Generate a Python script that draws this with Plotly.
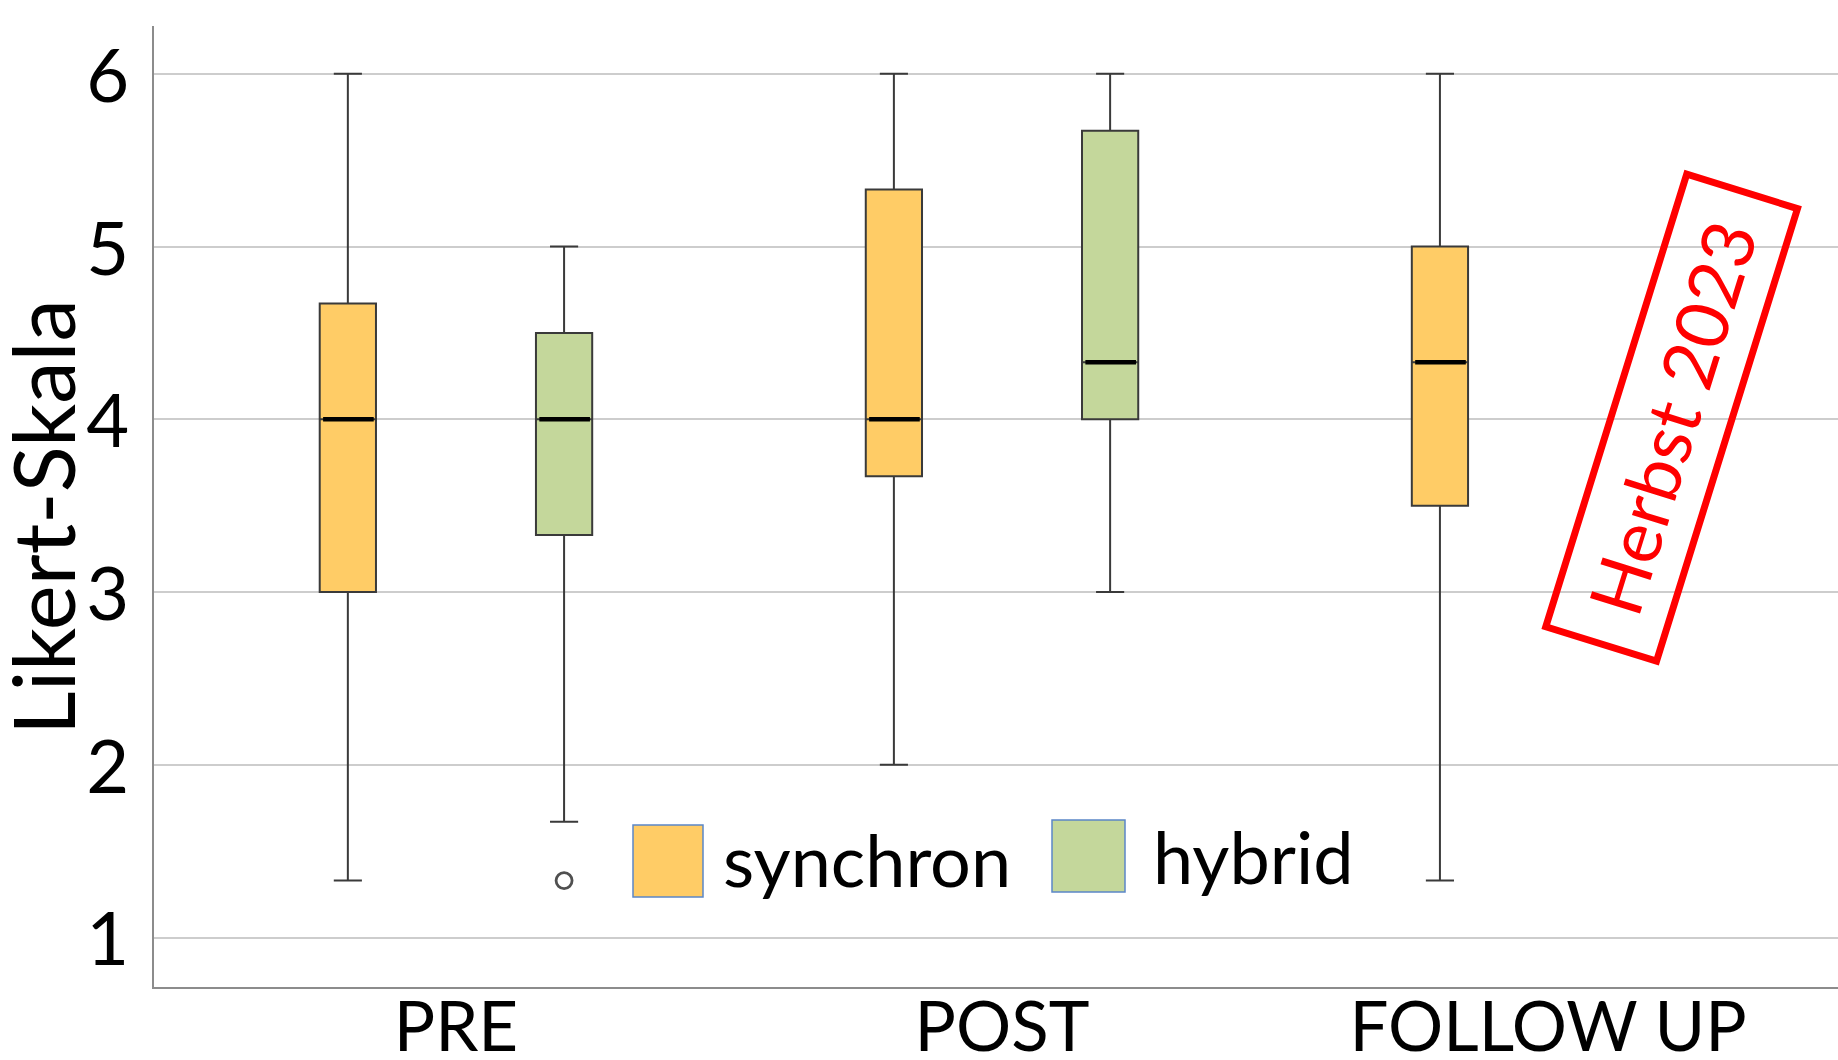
import plotly.graph_objects as go

# ---------------- data ----------------
categories = ["PRE", "POST", "FOLLOW UP"]

syn_name = "synchron"
syn_lower = [1.33, 2.0, 1.33]
syn_q1 = [3.0, 3.67, 3.5]
syn_median = [4.0, 4.0, 4.33]
syn_q3 = [4.67, 5.33, 5.0]
syn_upper = [6.0, 6.0, 6.0]

hyb_name = "hybrid"
hyb_categories = ["PRE", "POST"]
hyb_lower = [1.67, 3.0]
hyb_q1 = [3.33, 4.0]
hyb_median = [4.0, 4.33]
hyb_q3 = [4.5, 5.67]
hyb_upper = [5.0, 6.0]

hyb_outlier_cat = ["PRE"]
hyb_outlier_val = [1.33]

y_ticks = [1, 2, 3, 4, 5, 6]
stamp_text = "Herbst 2023"

# ---------------- styling / layout ----------------
W, H = 1838, 1060
ML, MR, MT, MB = 154, 0, 26, 73
FONT = "Lato, Carlito, Calibri, 'Open Sans', sans-serif"
SYN_COLOR = "#FFCC66"
HYB_COLOR = "#C4D79B"
OFF = 0.198      # offset of each box from the category centre
BW = 0.103       # box width in category units

pw, ph = W - ML - MR, H - MT - MB


def px(x):
    return (x - ML) / pw


def py(y):
    return (H - MB - y) / ph


def pos(cats, sign):
    return [categories.index(c) + sign * OFF for c in cats]


syn_x = pos(categories, -1)
hyb_x = pos(hyb_categories, +1)

fig = go.Figure()

box_line = dict(color="#3a3a3a", width=2)
fig.add_trace(go.Box(
    name=syn_name, x=syn_x, q1=syn_q1, median=syn_median, q3=syn_q3,
    lowerfence=syn_lower, upperfence=syn_upper, width=BW,
    fillcolor=SYN_COLOR, line=box_line, whiskerwidth=0.5,
    boxpoints=False, showlegend=False, hoverinfo="skip"))
fig.add_trace(go.Box(
    name=hyb_name, x=hyb_x, q1=hyb_q1, median=hyb_median, q3=hyb_q3,
    lowerfence=hyb_lower, upperfence=hyb_upper, width=BW,
    fillcolor=HYB_COLOR, line=box_line, whiskerwidth=0.5,
    boxpoints=False, showlegend=False, hoverinfo="skip"))

# thick black median lines
mx, my = [], []
for xs, meds in ((syn_x, syn_median), (hyb_x, hyb_median)):
    for x, m in zip(xs, meds):
        mx += [x - BW * 0.44, x + BW * 0.46, None]
        my += [m, m, None]
fig.add_trace(go.Scatter(x=mx, y=my, mode="lines",
                         line=dict(color="black", width=4.5),
                         showlegend=False, hoverinfo="skip"))

# outlier
fig.add_trace(go.Scatter(
    x=pos(hyb_outlier_cat, +1), y=hyb_outlier_val, mode="markers",
    marker=dict(symbol="circle-open", size=16, color="#505050",
                line=dict(width=2.8, color="#505050")),
    showlegend=False, hoverinfo="skip"))

# manual legend
shapes = []
annotations = []
legend_items = [
    (syn_name, SYN_COLOR, (633, 825, 703, 897), 721, 859),
    (hyb_name, HYB_COLOR, (1052, 820, 1125, 892), 1151, 856),
]
for name, col, (x0, y0, x1, y1), tx, ty in legend_items:
    shapes.append(dict(type="rect", xref="paper", yref="paper",
                       x0=px(x0), x1=px(x1), y0=py(y1), y1=py(y0),
                       fillcolor=col, line=dict(color="#5B87C8", width=1.5)))
    annotations.append(dict(text=name, xref="paper", yref="paper",
                            x=px(tx), y=py(ty), xanchor="left", yanchor="middle",
                            showarrow=False,
                            font=dict(family=FONT, size=72, color="black")))

# y axis title
annotations.append(dict(text="Likert-Skala", xref="paper", yref="paper",
                        x=px(42), y=py(517), xanchor="center", yanchor="middle",
                        textangle=-90, showarrow=False,
                        font=dict(family=FONT, size=85, color="black")))

# red stamp
annotations.append(dict(text=stamp_text, xref="paper", yref="paper",
                        x=px(1671), y=py(418), xanchor="center", yanchor="middle",
                        textangle=-72.7, showarrow=False,
                        width=467, height=109, borderpad=0,
                        bordercolor="#FF0000", borderwidth=7,
                        font=dict(family=FONT, size=73, color="#FF0000")))

fig.update_layout(
    width=W, height=H,
    margin=dict(l=ML, r=MR, t=MT, b=MB, pad=0, autoexpand=False),
    paper_bgcolor="white", plot_bgcolor="white",
    boxmode="overlay",
    shapes=shapes, annotations=annotations,
    font=dict(family=FONT, color="black"),
)
fig.update_xaxes(
    range=[-0.553, 2.531], tickmode="array",
    tickvals=list(range(len(categories))), ticktext=categories,
    showgrid=False, zeroline=False, ticks="", automargin=False,
    showline=True, linecolor="#8c8c8c", linewidth=2,
    ticklabelstandoff=-21,
    tickfont=dict(family=FONT, size=69, color="black"),
)
fig.update_yaxes(
    range=[0.714, 6.277], tickmode="array", tickvals=y_ticks,
    showgrid=True, gridcolor="#cdcdcd", gridwidth=2, zeroline=False,
    ticks="", showline=True, linecolor="#8c8c8c", linewidth=2,
    automargin=False, ticklabelstandoff=8, ticklabelshift=2,
    tickfont=dict(family=FONT, size=74, color="black"),
)

fig.write_html("out.html")
